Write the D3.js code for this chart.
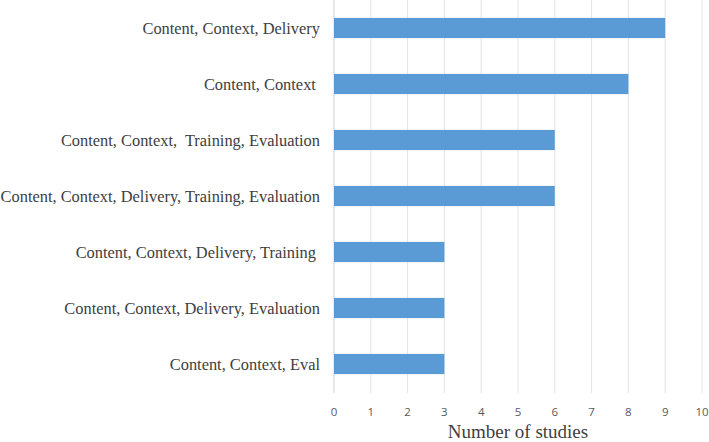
<!DOCTYPE html>
<html>
<head>
<meta charset="utf-8">
<script src="https://cdn.jsdelivr.net/npm/d3@7"></script>
<style>
  body { margin: 0; background: #fff; }
  text { white-space: pre; }
</style>
</head>
<body>
<script>
var width = 709;
var height = 442;

var categories = [
  "Content, Context, Delivery",
  "Content, Context ",
  "Content, Context,  Training, Evaluation",
  "Content, Context, Delivery, Training, Evaluation",
  "Content, Context, Delivery, Training ",
  "Content, Context, Delivery, Evaluation",
  "Content, Context, Eval"
];
var studies = [9, 8, 6, 6, 3, 3, 3];
var xTicks = [0, 1, 2, 3, 4, 5, 6, 7, 8, 9, 10];

var svg = d3.select("body").append("svg")
    .attr("width", width)
    .attr("height", height);

var x = d3.scaleLinear().domain([0, 10]).range([334, 702]);
var y = d3.scaleBand().domain(categories).range([0, 392]).paddingInner(0.64).paddingOuter(0.32);

// gridlines
svg.append("g").selectAll("line")
    .data(xTicks)
  .enter().append("line")
    .attr("x1", function(d) { return x(d); })
    .attr("x2", function(d) { return x(d); })
    .attr("y1", 0)
    .attr("y2", 393)
    .attr("stroke", function(d) { return d === 0 ? "#d0d0d0" : "#e3e3e3"; })
    .attr("stroke-width", 1);

// bars
svg.append("g").selectAll("rect")
    .data(studies)
  .enter().append("rect")
    .attr("x", x(0))
    .attr("y", function(d, i) { return y(categories[i]); })
    .attr("width", function(d) { return x(d) - x(0); })
    .attr("height", y.bandwidth())
    .attr("fill", "#5b9bd5");

// category labels
svg.append("g").selectAll("text")
    .data(categories)
  .enter().append("text")
    .attr("x", 320)
    .attr("y", function(d) { return y(d) + y.bandwidth() / 2; })
    .attr("dy", "0.35em")
    .attr("text-anchor", "end")
    .attr("font-family", "Liberation Serif, serif")
    .attr("font-size", 16.4)
    .attr("fill", "#404040")
    .text(function(d) { return d; });

// x tick labels
svg.append("g").selectAll("text")
    .data(xTicks)
  .enter().append("text")
    .attr("x", function(d) { return x(d); })
    .attr("y", 415.5)
    .attr("text-anchor", "middle")
    .attr("font-family", "Open Sans, sans-serif")
    .attr("font-size", 11.5)
    .attr("fill", "#595959")
    .text(function(d) { return d; });

svg.append("text")
    .attr("x", x(5))
    .attr("y", 437.5)
    .attr("text-anchor", "middle")
    .attr("font-family", "Liberation Serif, serif")
    .attr("font-size", 19)
    .attr("fill", "#404040")
    .text("Number of studies");
</script>
</body>
</html>
